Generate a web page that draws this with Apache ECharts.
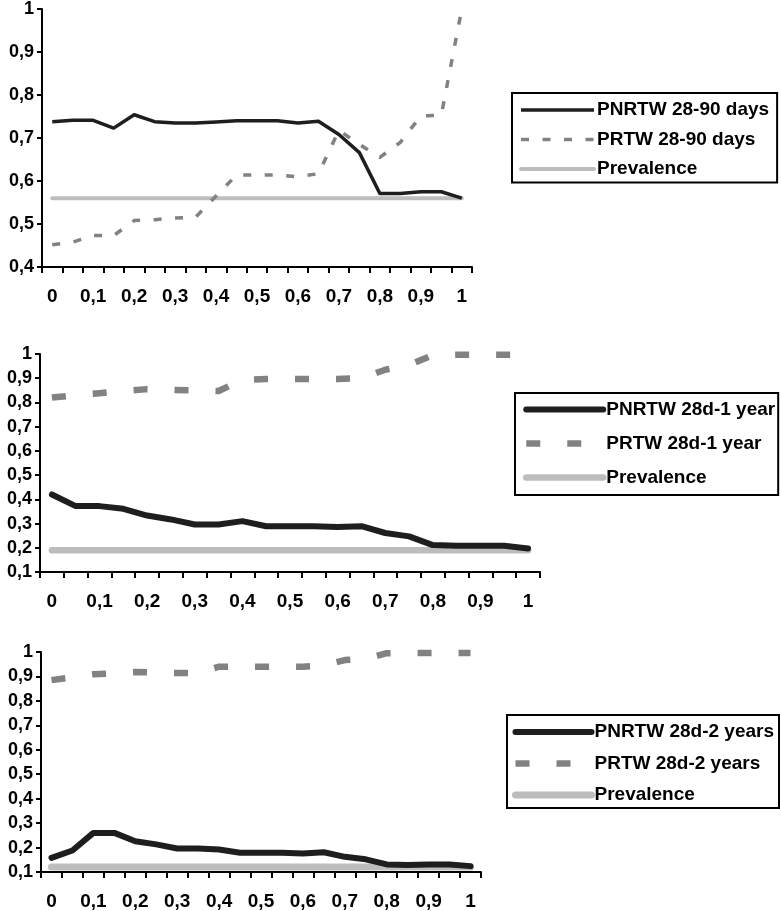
<!DOCTYPE html>
<html>
<head>
<meta charset="utf-8">
<script src="https://cdn.jsdelivr.net/npm/echarts@6/dist/echarts.min.js"></script>
<style>
html,body{margin:0;padding:0;background:#fff;}
#chart{width:781px;height:911px;}
</style>
</head>
<body>
<div id="chart"></div>
<script>
// ---- data ----
const categories = ['0','0,05','0,1','0,15','0,2','0,25','0,3','0,35','0,4','0,45','0,5','0,55','0,6','0,65','0,7','0,75','0,8','0,85','0,9','0,95','1'];

const pnrtw9090 = [0.738,0.741,0.741,0.723,0.754,0.738,0.735,0.735,0.737,0.740,0.740,0.740,0.735,0.739,0.708,0.666,0.571,0.571,0.575,0.575,0.560];
const prtw9090  = [0.452,0.458,0.473,0.473,0.508,0.510,0.514,0.516,0.565,0.614,0.614,0.614,0.610,0.617,0.718,0.685,0.655,0.690,0.751,0.753,1.000];
const prev9090  = [0.56,0.56,0.56,0.56,0.56,0.56,0.56,0.56,0.56,0.56,0.56,0.56,0.56,0.56,0.56,0.56,0.56,0.56,0.56,0.56,0.56];

const pnrtw1y = [0.420,0.372,0.372,0.361,0.333,0.317,0.296,0.296,0.310,0.289,0.289,0.289,0.286,0.289,0.261,0.247,0.211,0.208,0.208,0.208,0.197];
const prtw1y  = [0.820,0.830,0.838,0.847,0.855,0.852,0.850,0.847,0.893,0.897,0.897,0.897,0.897,0.900,0.935,0.955,0.995,0.997,0.997,0.997,0.997];
const prev1y  = [0.19,0.19,0.19,0.19,0.19,0.19,0.19,0.19,0.19,0.19,0.19,0.19,0.19,0.19,0.19,0.19,0.19,0.19,0.19,0.19,0.19];

const pnrtw2y = [0.158,0.188,0.260,0.260,0.226,0.213,0.196,0.196,0.192,0.179,0.179,0.179,0.176,0.181,0.162,0.152,0.131,0.129,0.131,0.131,0.124];
const prtw2y  = [0.885,0.897,0.909,0.913,0.918,0.916,0.914,0.914,0.940,0.940,0.940,0.940,0.940,0.945,0.967,0.972,0.995,0.996,0.996,0.996,0.996];
const prev2y  = [0.12,0.12,0.12,0.12,0.12,0.12,0.12,0.12,0.12,0.12,0.12,0.12,0.12,0.12,0.12,0.12,0.12,0.12,0.12,0.12,0.12];

const names1 = ['PNRTW 28-90 days','PRTW 28-90 days','Prevalence#1'];
const names2 = ['PNRTW 28d-1 year','PRTW 28d-1 year','Prevalence#2'];
const names3 = ['PNRTW 28d-2 years','PRTW 28d-2 years','Prevalence#3'];

// ---- styling ----
const FONT = 'Liberation Sans, Arial, sans-serif';
const BLACK = '#1e1e1e', GRAY = '#828282', LIGHT = '#bdbdbd';

function fmt(v){ return (Math.round(v*10)/10).toString().replace('.', ','); }

function xAxis(gi){
  return {
    type:'category', gridIndex:gi, data:categories, boundaryGap:true,
    axisLine:{lineStyle:{color:'#000',width:2}},
    axisTick:{show:true, interval:0, length:6, lineStyle:{color:'#000',width:2}},
    axisLabel:{interval:1, margin:20, color:'#000', fontSize:19, fontWeight:'bold', fontFamily:FONT},
    splitLine:{show:false}
  };
}
function yAxis(gi, min){
  return {
    type:'value', gridIndex:gi, min:min, max:1, interval:0.1,
    axisLine:{show:true, lineStyle:{color:'#000',width:2}},
    axisTick:{show:true, length:5, lineStyle:{color:'#000',width:2}},
    axisLabel:{margin:8, color:'#000', fontSize:18, fontWeight:'bold', fontFamily:FONT, formatter:fmt},
    splitLine:{show:false}
  };
}
function line(name, gi, data, color, width, type, cap, z){
  return {
    name:name, type:'line', xAxisIndex:gi, yAxisIndex:gi, data:data,
    symbol:'none', showSymbol:false, silent:true, animation:false, z:z,
    lineStyle:{color:color, width:width, type:type, cap:cap, join:'round'},
    itemStyle:{color:color}
  };
}
function legend(names, left, top, padding, gap, itemWidth){
  return {
    orient:'vertical', left:left, top:top, padding:padding, itemGap:gap,
    itemWidth:itemWidth, itemHeight:14, data:names,
    borderColor:'#000', borderWidth:2, backgroundColor:'#fff',
    selectedMode:false,
    formatter:function(n){ return n.split('#')[0]; },
    itemStyle:{opacity:0},
    lineStyle:{width:'inherit', type:'inherit', cap:'inherit'},
    textStyle:{color:'#000', fontSize:19, fontWeight:'bold', fontFamily:FONT, padding:[0,0,0,-2]}
  };
}

const chart = echarts.init(document.getElementById('chart'), null, {renderer:'canvas'});
chart.setOption({
  animation:false,
  backgroundColor:'#fff',
  grid:[
    {left:42, top:7, width:430, height:260},
    {left:40, top:354, width:500, height:218},
    {left:41, top:652, width:440, height:221}
  ],
  xAxis:[xAxis(0), xAxis(1), xAxis(2)],
  yAxis:[yAxis(0,0.4), yAxis(1,0.1), yAxis(2,0.1)],
  legend:[
    legend(names1, 512, 93, [7.5,8,4,7], 10.5, 73),
    legend(names2, 515, 393, [7,3,8,8], 15, 77),
    legend(names3, 507, 715, [7.5,5,3.5,5], 12.5, 76)
  ],
  series:[
    line(names1[2], 0, prev9090, LIGHT, 4, 'solid', 'round', 1),
    line(names1[1], 0, prtw9090, GRAY, 3.5, [8,13.5], 'butt', 2),
    line(names1[0], 0, pnrtw9090, BLACK, 3.5, 'solid', 'butt', 3),

    line(names2[2], 1, prev1y, LIGHT, 6.5, 'solid', 'round', 1),
    line(names2[1], 1, prtw1y, GRAY, 6.5, [14,27], 'butt', 2),
    line(names2[0], 1, pnrtw1y, BLACK, 6, 'solid', 'round', 3),

    line(names3[2], 2, prev2y, LIGHT, 7, 'solid', 'round', 1),
    line(names3[1], 2, prtw2y, GRAY, 6.5, [14,27], 'butt', 2),
    line(names3[0], 2, pnrtw2y, BLACK, 6, 'solid', 'round', 3)
  ]
});
</script>
</body>
</html>
